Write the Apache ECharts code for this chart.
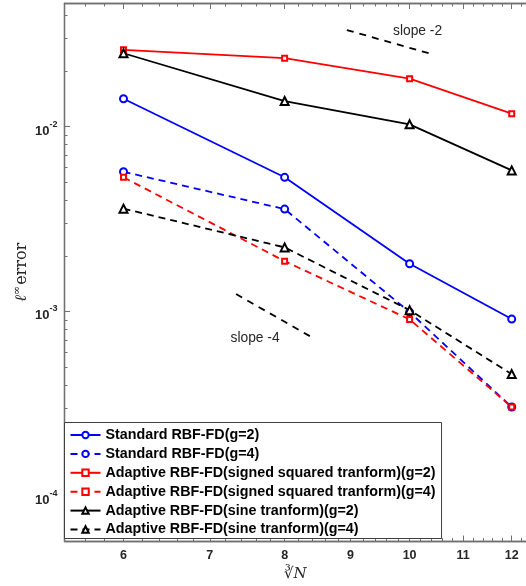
<!DOCTYPE html>
<html>
<head>
<meta charset="utf-8">
<script src="https://cdn.jsdelivr.net/npm/echarts@6/dist/echarts.min.js"></script>
<style>html,body{margin:0;padding:0;background:#fff}#c{width:526px;height:586px}</style>
</head>
<body>
<div id="c"></div>
<script>
// ---- data ----
const xVals = [6, 8, 10, 12];
const stdG2 = [0.01418, 0.00532, 0.00181, 0.000908];
const stdG4 = [0.0057, 0.00358, 0.00099, 0.000303];
const sqG2 = [0.0261, 0.0235, 0.0182, 0.01176];
const sqG4 = [0.00532, 0.00187, 0.000904, 0.000303];
const sinG2 = [0.025, 0.01377, 0.0103, 0.0058];
const sinG4 = [0.0036, 0.00222, 0.001015, 0.000457];
const slope2X = [8.94, 10.41];
const slope2Y = [0.0334, 0.0247];
const slope4X = [7.335, 8.386];
const slope4Y = [0.00124, 0.000728];
const seriesNames = [
  'Standard RBF-FD(g=2)',
  'Standard RBF-FD(g=4)',
  'Adaptive RBF-FD(signed squared tranform)(g=2)',
  'Adaptive RBF-FD(signed squared tranform)(g=4)',
  'Adaptive RBF-FD(sine tranform)(g=2)',
  'Adaptive RBF-FD(sine tranform)(g=4)'
];
const xTicks = [6, 7, 8, 9, 10, 11, 12];
const xMinorTicks = [5.6, 5.8, 6.2, 6.4, 6.6, 6.8, 7.2, 7.4, 7.6, 7.8, 8.2, 8.4, 8.6, 8.8,
  9.2, 9.4, 9.6, 9.8, 10.2, 10.4, 10.6, 10.8, 11.2, 11.4, 11.6, 11.8, 12.2];
const yTicks = [1e-4, 1e-3, 1e-2];
const yMinorTicks = [6e-5, 7e-5, 8e-5, 9e-5, 2e-4, 3e-4, 4e-4, 5e-4, 6e-4, 7e-4, 8e-4, 9e-4,
  2e-3, 3e-3, 4e-3, 5e-3, 6e-3, 7e-3, 8e-3, 9e-3, 2e-2, 3e-2, 4e-2];
const xMin = 5.4, xMax = 12.31, yMin = 5.7e-5, yMax = 0.0465;

const pairs = (xs, ys) => xs.map((x, i) => [x, ys[i]]);
const axisCol = '#707070';
const txtCol = '#262626';
const DASH = [7, 5];

function mkSeries(name, ys, color, dashed, symbol, size) {
  return {
    name: name, type: 'line', data: pairs(xVals, ys),
    symbol: symbol, symbolSize: size, showAllSymbol: true,
    lineStyle: {color: color, width: 1.8, type: dashed ? DASH : 'solid'},
    itemStyle: {color: color, borderColor: color, borderWidth: 1.5},
    z: 3, animation: false
  };
}

function xAx(pos, major) {
  return {
    type: 'log', position: pos, min: xMin, max: xMax, logBase: 10,
    axisLine: {show: true, lineStyle: {color: axisCol, width: 1.3}},
    axisTick: {show: true, inside: true, length: major ? 5.5 : 3,
      customValues: major ? xTicks : xMinorTicks, lineStyle: {color: axisCol, width: 1}},
    axisLabel: {show: false},
    splitLine: {show: false}, minorTick: {show: false}
  };
}
function yAx(major) {
  return {
    type: 'log', position: 'left', min: yMin, max: yMax, logBase: 10,
    axisLine: {show: true, lineStyle: {color: axisCol, width: 1.3}},
    axisTick: {show: true, inside: true, length: major ? 5.5 : 3,
      customValues: major ? yTicks : yMinorTicks, lineStyle: {color: axisCol, width: 1}},
    axisLabel: {show: false},
    splitLine: {show: false}, minorTick: {show: false}
  };
}

const xMain = xAx('bottom', true);
xMain.axisLabel = {show: true, customValues: xTicks, margin: 8, color: txtCol,
  fontFamily: 'Liberation Sans', fontWeight: 'bold', fontSize: 12.5,
  formatter: v => String(Math.round(v))};
xMain.name = '{r|\u221B}{n|N}';
xMain.nameLocation = 'middle';
xMain.nameGap = 22;
xMain.nameTextStyle = {rich: {
  r: {fontFamily: 'DejaVu Serif', fontSize: 15, color: txtCol},
  n: {fontFamily: 'DejaVu Serif', fontStyle: 'italic', fontSize: 15, color: txtCol}
}};

const yMain = yAx(true);
yMain.axisLabel = {show: true, customValues: yTicks, margin: 7, color: txtCol,
  formatter: v => '{b|10}{s|' + Math.round(Math.log10(v)) + '}',
  rich: {
    b: {fontFamily: 'Liberation Sans', fontWeight: 'bold', fontSize: 13, color: txtCol, lineHeight: 16, verticalAlign: 'bottom', padding: [0, 0, -3, 0]},
    s: {fontFamily: 'Liberation Sans', fontWeight: 'bold', fontSize: 9, color: txtCol, lineHeight: 16, verticalAlign: 'bottom', padding: [0, 0, 6, 0]}
  }};
yMain.name = '{l|\u2113}{i|\u221E}{e|error}';
yMain.nameLocation = 'middle';
yMain.nameRotate = 90;
yMain.nameGap = 35;
yMain.nameMoveOverlap = false;
yMain.nameTextStyle = {padding: [0, 0, 0, 0], rich: {
  l: {fontFamily: 'DejaVu Serif', fontStyle: 'italic', fontSize: 16, color: txtCol, verticalAlign: 'bottom'},
  i: {fontFamily: 'DejaVu Serif', fontSize: 11, color: txtCol, verticalAlign: 'bottom', padding: [0, 1, 7, 0]},
  e: {fontFamily: 'DejaVu Serif', fontSize: 16, color: txtCol, verticalAlign: 'bottom'}
}};

const option = {
  animation: false,
  backgroundColor: '#fff',
  grid: {left: 64.5, top: 3.5, right: 0, bottom: 45, containLabel: false, outerBoundsMode: 'none'},
  xAxis: [xMain, xAx('bottom', false), xAx('top', true), xAx('top', false)],
  yAxis: [yMain, yAx(false)],
  legend: {
    orient: 'vertical', left: 64.5, top: 422.5,
    data: seriesNames,
    itemWidth: 30, itemHeight: 8, itemGap: 4.9, itemTextGap: 5,
    padding: [5.5, 6, 2, 5],
    backgroundColor: '#fff', borderColor: '#404040', borderWidth: 1,
    textStyle: {fontFamily: 'Liberation Sans', fontWeight: 'bold', fontSize: 14.3, color: '#000', lineHeight: 14}
  },
  series: [
    mkSeries(seriesNames[0], stdG2, '#0000ff', false, 'emptyCircle', 7),
    mkSeries(seriesNames[1], stdG4, '#0000ff', true, 'emptyCircle', 7),
    mkSeries(seriesNames[2], sqG2, '#ff0000', false, 'emptyRect', 5),
    mkSeries(seriesNames[3], sqG4, '#ff0000', true, 'emptyRect', 5),
    mkSeries(seriesNames[4], sinG2, '#000000', false, 'emptyTriangle', 8),
    mkSeries(seriesNames[5], sinG4, '#000000', true, 'emptyTriangle', 8),
    {type: 'line', data: pairs(slope2X, slope2Y), symbol: 'none', silent: true,
      lineStyle: {color: '#000', width: 1.8, type: [7, 6]}, z: 2},
    {type: 'line', data: pairs(slope4X, slope4Y), symbol: 'none', silent: true,
      lineStyle: {color: '#000', width: 1.8, type: [7, 6]}, z: 2}
  ],
  graphic: [
    {type: 'text', left: 393, top: 24.5, style: {text: 'slope -2', font: '13.8px "Liberation Sans"', fill: txtCol}},
    {type: 'text', left: 230.5, top: 331.5, style: {text: 'slope -4', font: '13.8px "Liberation Sans"', fill: txtCol}}
  ]
};
const chart = echarts.init(document.getElementById('c'), null, {renderer: 'canvas'});
chart.setOption(option);
</script>
</body>
</html>
